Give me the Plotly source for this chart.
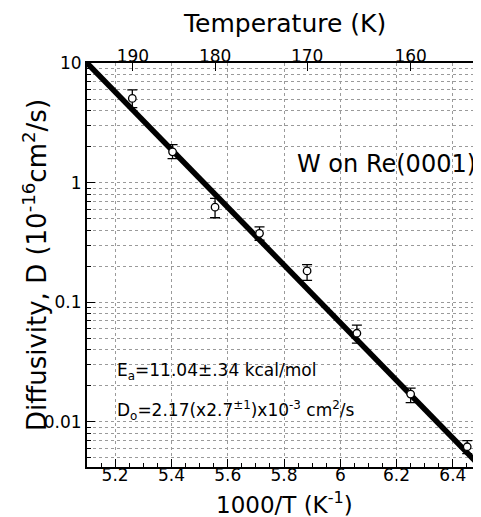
import math
import plotly.graph_objects as go

# Data (1000/T in K^-1, D in 1e-16 cm^2/s)
inv_T = [5.261, 5.404, 5.555, 5.713, 5.882, 6.059, 6.250, 6.451]
D_vals = [5.06, 1.81, 0.624, 0.377, 0.183, 0.0551, 0.0171, 0.0062]
D_hi = [5.97, 2.08, 0.74, 0.427, 0.2065, 0.0644, 0.0192, 0.00697]
D_lo = [4.24, 1.59, 0.509, 0.330, 0.1527, 0.0455, 0.01449, 0.00543]

fit_x = [5.1, 6.5]
fit_y = [10.0, 0.0042]

temp_ticks = [190, 180, 170, 160]
x_range = [5.1, 6.5]
y_range_vals = [0.0042, 10.0]
y_tick_vals = [0.01, 0.1, 1, 10]
y_tick_text = ["0.01", "0.1", "1", "10"]

y_range = [math.log10(y_range_vals[0]), math.log10(y_range_vals[1])]

err_plus = [h - v for h, v in zip(D_hi, D_vals)]
err_minus = [v - l for v, l in zip(D_vals, D_lo)]

FONT = "DejaVu Sans"
grid_col = "#9a9a9a"
OFF = 8  # default body margin of the page

fig = go.Figure()

fig.add_trace(go.Scatter(
    x=fit_x, y=fit_y, mode="lines",
    line=dict(color="black", width=5.5),
    showlegend=False, hoverinfo="skip"))

fig.add_trace(go.Scatter(
    x=inv_T, y=D_vals, mode="markers",
    marker=dict(symbol="circle", size=7.5, color="white",
                line=dict(color="black", width=1.3)),
    error_y=dict(type="data", symmetric=False, array=err_plus,
                 arrayminus=err_minus, color="black", thickness=1.3, width=5),
    showlegend=False))

# invisible trace for secondary axes
fig.add_trace(go.Scatter(x=[], y=[], xaxis="x2", yaxis="y2", showlegend=False))

fig.update_layout(
    width=481 - OFF, height=517 - OFF,
    margin=dict(l=87 - OFF, r=0, t=63 - OFF, b=58 - OFF, autoexpand=False),
    paper_bgcolor="white", plot_bgcolor="white",
    font=dict(family=FONT, color="black", size=16),
    xaxis=dict(
        range=x_range, tick0=5.2, dtick=0.2,
        ticks="inside", ticklen=8, tickwidth=1.3, tickcolor="black",
        showline=True, linecolor="black", linewidth=2, mirror=False,
        showgrid=True, gridcolor=grid_col, griddash="dot", gridwidth=1,
        zeroline=False, tickfont=dict(size=17), ticklabelstandoff=-8,
        minor=dict(dtick=0.05, tick0=5.2, ticks="inside", ticklen=4,
                   tickwidth=1.2, tickcolor="black", showgrid=False),
    ),
    xaxis2=dict(
        overlaying="x", side="top", range=x_range,
        tickvals=[1000.0 / t for t in temp_ticks],
        ticktext=[str(t) for t in temp_ticks],
        ticks="inside", ticklen=8, tickwidth=1.3, tickcolor="black",
        showline=True, linecolor="black", linewidth=2,
        showgrid=False, zeroline=False, tickfont=dict(size=17),
        ticklabelstandoff=-8,
    ),
    yaxis=dict(
        type="log", range=y_range,
        tickvals=y_tick_vals, ticktext=y_tick_text,
        ticks="inside", ticklen=8, tickwidth=1.3, tickcolor="black",
        showline=True, linecolor="black", linewidth=2, mirror=False,
        showgrid=True, gridcolor=grid_col, griddash="dot", gridwidth=1,
        zeroline=False, tickfont=dict(size=17),
        minor=dict(dtick="D1", ticks="inside", ticklen=4, tickwidth=1.2,
                   tickcolor="black", showgrid=True, gridcolor=grid_col,
                   griddash="dot", gridwidth=1),
    ),
    yaxis2=dict(
        type="log", overlaying="y", side="right", range=y_range,
        tickvals=y_tick_vals,
        ticks="inside", ticklen=8, tickwidth=1.3, tickcolor="black",
        showline=False, showgrid=False, showticklabels=False, zeroline=False,
        minor=dict(dtick="D1", ticks="inside", ticklen=4, tickwidth=1.2,
                   tickcolor="black", showgrid=False),
    ),
    shapes=[
        dict(type="rect", xref="paper", yref="paper", x0=0.071, x1=0.69,
             y0=0.068, y1=0.255, fillcolor="white", line=dict(width=0),
             layer="between"),
        dict(type="rect", xref="paper", yref="paper", x0=0.533, x1=0.995,
             y0=0.712, y1=0.788, fillcolor="white", line=dict(width=0),
             layer="between"),
    ],
    annotations=[
        dict(text="Temperature (K)", xref="paper", yref="paper",
             x=0.5, y=1.098, xanchor="center", yanchor="middle",
             showarrow=False, font=dict(size=25)),
        dict(text="1000/T (K<sup>-1</sup>)", xref="paper", yref="paper",
             x=0.5, y=-0.09, xanchor="center", yanchor="middle",
             showarrow=False, font=dict(size=23)),
        dict(text="Diffusivity, D (10<sup>-16</sup>cm<sup>2</sup>/s)",
             xref="paper", yref="paper", x=-0.132, y=0.5, textangle=-90,
             xanchor="center", yanchor="middle", showarrow=False,
             font=dict(size=26)),
        dict(text="W on Re(0001)", xref="paper", yref="paper",
             x=0.759, y=0.75, xanchor="center", yanchor="middle",
             showarrow=False, font=dict(size=24)),
        dict(text="E<sub>a</sub>=11.04±.34 kcal/mol", xref="paper",
             yref="paper", x=0.071, y=0.236, xanchor="left",
             yanchor="middle", showarrow=False, font=dict(size=17)),
        dict(text="D<sub>o</sub>=2.17(x2.7<sup>±1</sup>)x10<sup>-3</sup> cm<sup>2</sup>/s",
             xref="paper", yref="paper", x=0.071, y=0.14, xanchor="left",
             yanchor="middle", showarrow=False, font=dict(size=17)),
    ],
)

fig.write_html("out.html")
